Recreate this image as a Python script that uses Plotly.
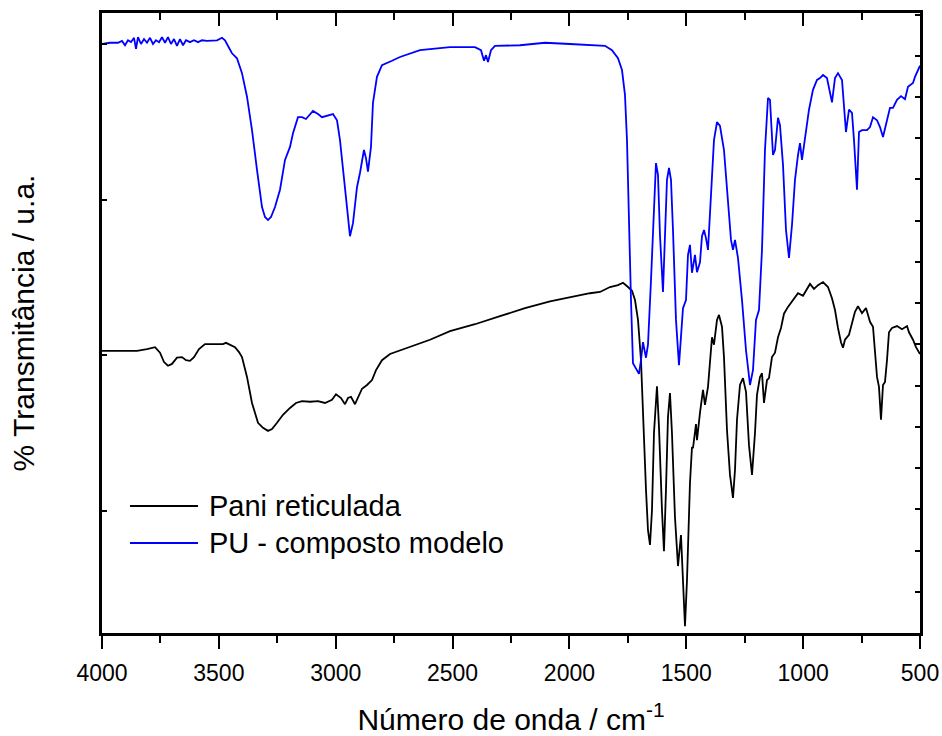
import plotly.graph_objects as go

# FTIR spectra: wavenumber (cm-1) and transmittance (arbitrary units, 0-100)
pani_wn = [4000, 3923.0, 3850.2, 3807.5, 3773.2, 3751.8, 3734.7, 3717.6, 3700.5, 3679.1,
           3657.7, 3640.6, 3623.5, 3606.4, 3585.0, 3559.3, 3516.5, 3482.3, 3469.4, 3452.3,
           3430.9, 3413.8, 3401.0, 3379.6, 3358.2, 3332.5, 3311.1, 3289.7, 3272.6, 3251.2,
           3225.6, 3195.6, 3170.0, 3144.3, 3110.0, 3075.8, 3045.9, 3015.9, 2998.8, 2977.4,
           2960.3, 2947.4, 2934.6, 2917.5, 2904.6, 2887.5, 2866.1, 2844.8, 2827.6, 2802.0,
           2767.7, 2725.0, 2660.8, 2596.6, 2511.0, 2404.1, 2297.1, 2190.1, 2083.1, 1997.6,
           1912.0, 1869.2, 1826.4, 1792.2, 1770.8, 1749.4, 1732.3, 1719.5, 1706.6, 1693.8,
           1685.3, 1672.4, 1663.9, 1655.3, 1646.8, 1638.2, 1625.4, 1616.8, 1604.0, 1595.5,
           1586.9, 1578.4, 1569.8, 1561.3, 1548.4, 1535.6, 1522.7, 1514.1, 1505.6, 1497.0,
           1484.2, 1475.6, 1471.3, 1458.5, 1454.2, 1441.4, 1428.5, 1420.0, 1407.1, 1390.0,
           1381.5, 1368.6, 1360.1, 1347.2, 1338.7, 1325.8, 1313.0, 1300.2, 1291.6, 1283.0,
           1270.2, 1257.4, 1244.5, 1231.7, 1218.8, 1206.0, 1197.5, 1184.6, 1176.1, 1167.5,
           1154.7, 1146.2, 1133.3, 1120.5, 1107.6, 1094.8, 1082.0, 1064.9, 1043.4, 1022.0,
           1000.6, 987.8, 970.7, 953.6, 936.5, 915.1, 893.7, 876.6, 863.7, 850.9,
           838.1, 829.5, 821.0, 803.8, 791.0, 778.2, 765.3, 748.2, 731.1, 714.0,
           701.1, 692.6, 684.0, 675.5, 666.9, 658.3, 649.8, 641.2, 632.7, 619.8,
           598.4, 577.0, 555.6, 547.1, 530.0, 517.2, 504.3, 500]
pani_t = [45.5, 45.5, 45.5, 45.8, 46.1, 45.2, 43.7, 43.1, 43.4, 44.4,
          44.5, 44.0, 43.9, 44.5, 45.8, 46.6, 46.6, 46.6, 46.8, 46.5,
          46.1, 45.3, 44.5, 41.3, 37.1, 33.9, 33.1, 32.6, 32.9, 33.9,
          35.2, 36.3, 37.1, 37.4, 37.3, 37.4, 37.1, 37.6, 38.5, 37.9,
          36.9, 37.9, 38.1, 36.9, 38.1, 39.4, 40.0, 40.8, 42.4, 44.0,
          45.0, 45.6, 46.5, 47.3, 48.7, 49.8, 51.1, 52.4, 53.5, 54.2,
          54.8, 55.0, 55.8, 56.1, 56.5, 55.8, 55.2, 53.7, 50.5, 44.0,
          34.4, 23.1, 16.6, 14.2, 19.8, 32.3, 39.8, 33.2, 19.8, 13.2,
          23.1, 34.8, 38.7, 32.3, 18.7, 10.8, 15.8, 8.5, 1.1, 8.5,
          24.2, 30.0, 29.8, 33.7, 31.1, 35.5, 39.2, 36.8, 39.7, 47.7,
          46.5, 50.5, 51.3, 49.4, 44.5, 32.7, 25.5, 21.8, 26.3, 34.4,
          40.0, 41.1, 38.9, 30.3, 25.5, 32.3, 38.4, 41.3, 41.9, 37.1,
          40.8, 41.1, 44.5, 45.2, 47.7, 49.2, 51.5, 52.6, 53.7, 54.8,
          54.4, 55.3, 56.3, 55.5, 56.1, 56.6, 55.8, 54.0, 52.1, 49.2,
          46.9, 46.0, 47.3, 48.1, 50.0, 51.8, 52.7, 51.6, 52.4, 50.2,
          49.4, 45.6, 41.3, 39.7, 34.4, 40.0, 40.5, 44.0, 48.5, 49.2,
          49.5, 49.0, 49.5, 48.5, 47.3, 46.1, 45.2, 45.0]

pu_wn = [4000, 3965.8, 3931.5, 3914.4, 3901.6, 3888.8, 3875.9, 3863.1, 3854.5, 3846.0,
         3833.1, 3820.3, 3807.5, 3794.6, 3781.8, 3768.9, 3756.1, 3743.3, 3730.4, 3717.6,
         3704.8, 3691.9, 3679.1, 3666.3, 3653.4, 3640.6, 3623.5, 3606.4, 3589.2, 3572.1,
         3550.7, 3529.3, 3507.9, 3486.6, 3473.7, 3456.6, 3443.8, 3422.4, 3401.0, 3379.6,
         3358.2, 3336.8, 3315.4, 3302.6, 3289.7, 3276.9, 3259.8, 3238.4, 3217.0, 3195.6,
         3182.8, 3161.4, 3144.3, 3127.2, 3097.3, 3075.8, 3058.7, 3011.7, 2994.5, 2981.7,
         2968.9, 2951.8, 2939.0, 2926.1, 2909.0, 2896.2, 2879.1, 2870.5, 2862.0, 2849.1,
         2840.6, 2823.5, 2802.1, 2780.6, 2759.2, 2725.0, 2639.4, 2511.0, 2404.1, 2378.4,
         2365.5, 2357.0, 2348.4, 2335.6, 2318.5, 2211.5, 2104.5, 1997.6, 1890.6, 1847.8,
         1817.9, 1792.2, 1775.1, 1762.3, 1753.7, 1745.2, 1736.6, 1728.1, 1715.2, 1702.4,
         1693.8, 1685.3, 1672.4, 1663.9, 1651.0, 1642.5, 1633.9, 1629.7, 1621.1, 1612.6,
         1599.7, 1591.2, 1582.6, 1574.0, 1565.5, 1556.9, 1544.1, 1531.2, 1522.7, 1514.1,
         1501.3, 1492.7, 1484.2, 1475.6, 1462.8, 1454.2, 1441.4, 1432.8, 1424.2, 1415.7,
         1407.1, 1394.3, 1381.5, 1368.6, 1355.8, 1338.7, 1321.6, 1308.7, 1300.2, 1291.6,
         1278.8, 1261.6, 1244.5, 1227.4, 1214.6, 1201.8, 1188.9, 1176.1, 1163.3, 1150.4,
         1141.9, 1129.0, 1120.5, 1107.6, 1099.1, 1086.2, 1073.4, 1060.5, 1047.7, 1034.9,
         1022.0, 1013.5, 1004.9, 992.1, 975.0, 957.9, 940.7, 927.9, 915.1, 898.0,
         885.1, 876.6, 863.7, 850.9, 833.8, 825.2, 816.7, 803.8, 791.0, 782.4,
         769.6, 761.0, 748.2, 726.8, 714.0, 701.1, 684.0, 671.2, 658.3, 641.2,
         628.4, 615.6, 598.4, 581.3, 564.2, 551.4, 530.0, 521.4, 504.3, 500]
pu_t = [95.0, 95.2, 95.2, 95.5, 94.8, 95.6, 95.3, 96.0, 94.2, 96.1,
        95.0, 95.8, 95.2, 96.0, 95.0, 95.6, 95.3, 96.1, 95.2, 96.1,
        95.0, 95.8, 94.7, 95.8, 94.8, 95.6, 95.3, 95.6, 95.3, 95.6,
        95.5, 95.6, 95.6, 96.0, 95.6, 94.4, 93.5, 92.7, 90.3, 86.5,
        81.1, 74.7, 68.7, 67.1, 66.6, 67.1, 68.7, 71.5, 76.3, 78.4,
        80.6, 83.2, 83.2, 82.9, 84.2, 83.7, 83.2, 83.7, 82.7, 79.5,
        75.2, 68.7, 64.0, 66.1, 71.9, 74.2, 77.9, 76.6, 74.4, 78.4,
        85.5, 89.7, 91.6, 91.9, 92.3, 92.9, 94.0, 94.5, 94.5, 94.0,
        92.3, 93.2, 92.1, 94.0, 94.7, 94.8, 95.2, 95.0, 94.8, 94.7,
        94.0, 92.7, 90.8, 86.8, 79.5, 65.0, 53.7, 43.5, 42.7, 41.8,
        44.0, 46.9, 44.4, 46.5, 56.9, 65.0, 73.9, 75.8, 73.9, 64.2,
        55.0, 63.4, 73.1, 75.0, 73.1, 65.0, 50.5, 43.2, 47.3, 52.4,
        53.7, 61.0, 62.6, 58.1, 61.0, 58.2, 59.8, 64.0, 65.0, 63.7,
        61.8, 69.8, 79.5, 82.4, 81.8, 77.9, 69.8, 63.4, 61.8, 63.4,
        60.5, 53.7, 45.6, 40.0, 42.4, 50.5, 52.1, 61.8, 77.9, 86.3,
        86.0, 77.1, 77.9, 83.1, 81.9, 75.5, 65.0, 60.5, 65.8, 73.1,
        77.1, 79.0, 76.3, 79.5, 84.4, 87.6, 89.2, 89.5, 90.0, 89.5,
        87.3, 85.6, 89.5, 90.3, 89.2, 84.8, 80.8, 84.4, 83.9, 79.5,
        71.5, 80.8, 81.1, 81.1, 81.6, 83.2, 82.7, 81.6, 80.0, 82.7,
        84.7, 84.7, 86.0, 86.6, 86.1, 88.1, 88.7, 89.7, 91.1, 91.5]

series_names = ["Pani reticulada", "PU - composto modelo"]
series_colors = ["#000000", "#0000ff"]

x_range = [4000, 500]
x_ticks = [4000, 3500, 3000, 2500, 2000, 1500, 1000, 500]
y_range = [0, 100]
left_ticks = [19.7, 44.8, 69.8, 95.0]

FONT = "Arial, 'Liberation Sans', sans-serif"
AXW = 2.6

fig = go.Figure()
fig.add_trace(go.Scatter(x=pani_wn, y=pani_t, mode="lines", name=series_names[0],
                         line=dict(color=series_colors[0], width=1.8), showlegend=False))
fig.add_trace(go.Scatter(x=pu_wn, y=pu_t, mode="lines", name=series_names[1],
                         xaxis="x2", yaxis="y2",
                         line=dict(color=series_colors[1], width=1.8), showlegend=False))

# hand-built legend: long line samples followed by labels
leg_rows = [0.2048, 0.1452]
for name, color, yy in zip(series_names, series_colors, leg_rows):
    fig.add_shape(type="line", xref="paper", yref="paper", x0=0.0342, x1=0.1174,
                  y0=yy, y1=yy, line=dict(color=color, width=1.8))
    fig.add_annotation(text=name, xref="paper", yref="paper", x=0.1284, y=yy,
                       xanchor="left", yanchor="middle", showarrow=False,
                       font=dict(family=FONT, size=29, color="#000"))

fig.update_layout(
    width=942, height=736,
    margin=dict(l=102, r=22, t=13, b=103, autoexpand=False),
    paper_bgcolor="white", plot_bgcolor="white",
    font=dict(family=FONT, color="#000"),
    xaxis=dict(range=x_range, showgrid=False, zeroline=False, automargin=False,
               showline=True, linecolor="#000", linewidth=AXW,
               ticks="outside", ticklen=13, tickwidth=2, tickcolor="#000",
               tickvals=x_ticks, ticklabelstandoff=5,
               tickfont=dict(size=23, family=FONT),
               minor=dict(ticks="outside", ticklen=7, tickwidth=2, dtick=250,
                          tick0=500, tickcolor="#000", showgrid=False),
               title=dict(text="Número de onda / cm<sup>-1</sup>",
                          font=dict(size=30, family=FONT), standoff=24)),
    xaxis2=dict(range=x_range, overlaying="x", side="top", anchor="y",
                automargin=False,
                showgrid=False, zeroline=False, showline=True, linecolor="#000",
                linewidth=AXW, ticks="inside", ticklen=13, tickwidth=2,
                tickcolor="#000", showticklabels=False, tickvals=x_ticks,
                minor=dict(ticks="inside", ticklen=7, tickwidth=2, dtick=250,
                           tick0=500, tickcolor="#000", showgrid=False)),
    yaxis=dict(range=y_range, showgrid=False, zeroline=False, automargin=False,
               showline=True, linecolor="#000", linewidth=AXW,
               ticks="inside", ticklen=5, tickwidth=2, tickcolor="#000",
               tickvals=left_ticks, showticklabels=False,
               title=dict(text="% Transmitância / u.a.",
                          font=dict(size=30, family=FONT), standoff=56)),
    yaxis2=dict(range=y_range, overlaying="y", side="right", anchor="x",
                automargin=False,
                showgrid=False, zeroline=False, showline=True, linecolor="#000",
                linewidth=AXW, ticks="inside", ticklen=5, tickwidth=2,
                tickcolor="#000", showticklabels=False, tick0=0, dtick=6.65),
)

fig.write_html("out.html")
